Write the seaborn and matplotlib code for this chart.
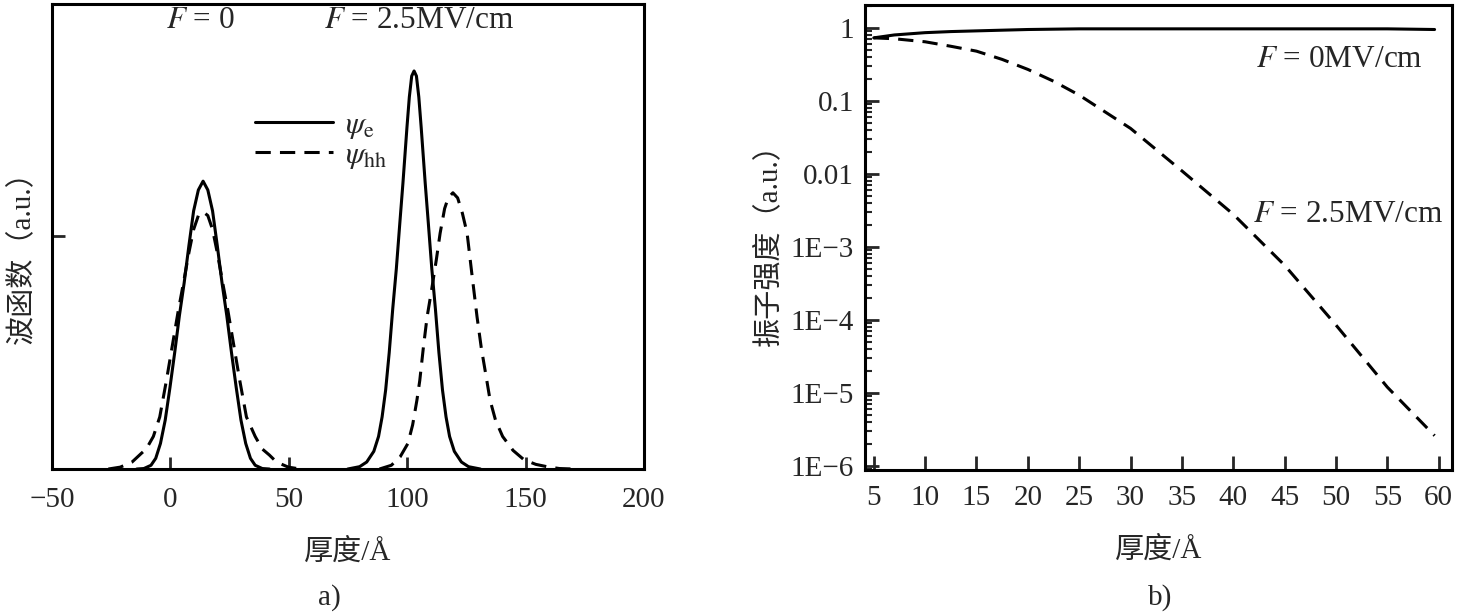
import numpy as np
import pandas as pd
import matplotlib
matplotlib.use("Agg")
import matplotlib.pyplot as plt
import matplotlib.ticker as mticker
import seaborn as sns

# panel a) wave functions
e_f0_x = [-14.2, -11.2, -8.2, -6.2, -4.2, -2.2, -0.2, 1.8, 3.8, 5.8, 7.8, 9.8, 11.8, 13.8,
          15.8, 17.8, 19.8, 21.8, 23.8, 25.8, 27.8, 29.8, 31.8, 33.8, 35.8, 38.8, 41.8]
e_f0_y = [0, 0.001, 0.008, 0.023, 0.055, 0.105, 0.175, 0.25, 0.33, 0.40, 0.48, 0.555, 0.60, 0.619,
          0.60, 0.555, 0.48, 0.40, 0.33, 0.25, 0.175, 0.105, 0.055, 0.023, 0.008, 0.001, 0]
hh_f0_x = [-26.2, -21.2, -16.2, -12.2, -10.2, -7.2, -4.5, -1.7, 0.5, 3.3, 5.5, 7.8, 9.8, 11.8, 13.8,
           15.8, 17.8, 19.8, 22.1, 24.3, 27.1, 29.3, 32.1, 35.8, 38.8, 41.8, 44.8, 49.8, 54.8]
hh_f0_y = [0, 0.004, 0.015, 0.034, 0.043, 0.07, 0.112, 0.19, 0.256, 0.34, 0.40, 0.465, 0.515, 0.545, 0.553,
           0.545, 0.515, 0.465, 0.40, 0.34, 0.256, 0.19, 0.112, 0.07, 0.043, 0.03, 0.015, 0.004, 0]
e_f25_x = [74.9, 79.9, 82.9, 85.9, 87.9, 89.4, 90.9, 92.4, 93.9, 95.4, 96.9, 98.2, 99.9, 100.9, 101.9, 102.9,
           103.9, 104.9, 105.9, 107.6, 108.9, 110.4, 111.9, 113.4, 114.9, 116.4, 117.9, 119.9, 122.9, 125.9, 130.9]
e_f25_y = [0, 0.005, 0.015, 0.038, 0.07, 0.112, 0.17, 0.25, 0.345, 0.43, 0.53, 0.615, 0.735, 0.80, 0.845, 0.856,
           0.845, 0.80, 0.735, 0.615, 0.53, 0.43, 0.345, 0.25, 0.17, 0.112, 0.07, 0.038, 0.015, 0.005, 0]
hh_f25_x = [88.3, 93.3, 97.0, 100.3, 102.3, 104.1, 105.3, 106.8, 108.4, 110.3, 112.3, 113.9, 115.8, 117.3, 119.3,
            121.3, 123.3, 125.3, 127.3, 129.5, 131.3, 133.3, 135.0, 137.3, 140.3, 144.7, 149.3, 154.3, 159.0, 164.3, 170.3]
hh_f25_y = [0, 0.008, 0.026, 0.055, 0.095, 0.148, 0.19, 0.26, 0.327, 0.385, 0.45, 0.507, 0.56, 0.583, 0.594,
            0.583, 0.55, 0.507, 0.42, 0.327, 0.26, 0.2, 0.148, 0.105, 0.07, 0.04, 0.02, 0.01, 0.005, 0.001, 0]

# panel b) oscillator strength vs thickness
thick_b = [5, 7, 10, 12.5, 15, 17.5, 20, 22.5, 25, 30, 35, 40, 45, 50, 55, 59.6]
osc_f0 = [0.73, 0.80, 0.86, 0.89, 0.91, 0.93, 0.95, 0.96, 0.97, 0.97, 0.97, 0.97, 0.97, 0.97, 0.97, 0.95]
osc_f25 = [0.73, 0.71, 0.645, 0.56, 0.48, 0.37, 0.27, 0.186, 0.12, 0.042, 0.011, 0.0028, 5.6e-4, 8.5e-5, 1.2e-5, 2.6e-6]

xticks_a = [-50, 0, 50, 100, 150, 200]
xticks_b = [5, 10, 15, 20, 25, 30, 35, 40, 45, 50, 55, 60]
yticks_b = [1e-6, 1e-5, 1e-4, 1e-3, 1e-2, 1e-1, 1]
yticklabels_b = ["1E\u22126", "1E\u22125", "1E\u22124", "1E\u22123", "0.01", "0.1", "1"]

sns.set_style("ticks")
plt.rcParams["font.family"] = ["Liberation Serif", "Noto Sans CJK SC"]
plt.rcParams["mathtext.fontset"] = "stix"
plt.rcParams["axes.unicode_minus"] = True
fs = 21
fs_note = 22.5
lw = 2.2

fig = plt.figure(figsize=(14.57, 6.13), dpi=100)
ax1 = fig.add_axes([0.0357, 0.2349, 0.4063, 0.7586])
ax2 = fig.add_axes([0.5937, 0.2333, 0.4029, 0.7586])

dash = (5, 3)
sns.lineplot(x=e_f0_x, y=e_f0_y, ax=ax1, color="black", lw=lw, estimator=None)
sns.lineplot(x=hh_f0_x, y=hh_f0_y, ax=ax1, color="black", lw=lw, estimator=None)
sns.lineplot(x=e_f25_x, y=e_f25_y, ax=ax1, color="black", lw=lw, estimator=None, label=r"$\psi_{\rm e}$")
sns.lineplot(x=hh_f25_x, y=hh_f25_y, ax=ax1, color="black", lw=lw, estimator=None, label=r"$\psi_{\rm hh}$")
ax1.lines[1].set_dashes(dash)
ax1.lines[3].set_dashes(dash)

ax1.set_xlim(-50, 200)
ax1.set_ylim(0, 1)
ax1.set_xticks(xticks_a)
ax1.set_yticks([0.5])
ax1.set_yticklabels([])
ax1.tick_params(direction="in", length=9, width=2, labelsize=fs, pad=13)
ax1.set_xlabel("厚度/Å", fontsize=fs, labelpad=18)
ax1.set_ylabel("波函数（a.u.）", fontsize=fs)
ax1.yaxis.set_label_coords(-0.027, 0.47)
ax1.text(0.25, 0.965, r"$F$ = 0", transform=ax1.transAxes, fontsize=fs_note, ha="center", va="center")
ax1.text(0.62, 0.965, r"$F$ = 2.5MV/cm", transform=ax1.transAxes, fontsize=fs_note, ha="center", va="center")
leg = ax1.legend(loc="center left", bbox_to_anchor=(0.295, 0.705), frameon=False, fontsize=fs_note,
                 handlelength=2.5, handletextpad=0.4, labelspacing=0.0)
for h in leg.get_lines():
    h.set_linewidth(lw)
leg.get_lines()[1].set_dashes(dash)

sns.lineplot(x=thick_b, y=osc_f0, ax=ax2, color="black", lw=lw, estimator=None)
sns.lineplot(x=thick_b, y=osc_f25, ax=ax2, color="black", lw=lw, estimator=None)
ax2.lines[1].set_dashes(dash)
ax2.set_yscale("log")
ax2.set_xlim(4.15, 61.3)
ax2.set_ylim(0.88e-6, 2.06)
ax2.set_xticks(xticks_b)
ax2.yaxis.set_major_locator(mticker.FixedLocator(yticks_b))
ax2.yaxis.set_major_formatter(mticker.FixedFormatter(yticklabels_b))
ax2.yaxis.set_minor_locator(mticker.LogLocator(base=10, subs=np.arange(2, 10)))
ax2.yaxis.set_minor_formatter(mticker.NullFormatter())
ax2.tick_params(axis="both", which="major", direction="in", length=10, width=2, labelsize=fs, pad=8)
ax2.tick_params(axis="x", which="major", pad=11)
ax2.tick_params(axis="y", which="minor", direction="in", length=5, width=1.5)
ax2.set_xlabel("厚度/Å", fontsize=fs, labelpad=18)
ax2.set_ylabel("振子强度（a.u.）", fontsize=fs, labelpad=6)
ax2.text(0.95, 0.883, r"$F$ = 0MV/cm", transform=ax2.transAxes, fontsize=fs_note, ha="right", va="center")
ax2.text(0.985, 0.55, r"$F$ = 2.5MV/cm", transform=ax2.transAxes, fontsize=fs_note, ha="right", va="center")

for ax in (ax1, ax2):
    for s in ax.spines.values():
        s.set_linewidth(2.2)
        s.set_color("black")

fig.text(0.2262, 0.026, "a)", fontsize=fs, ha="center", va="center")
fig.text(0.796, 0.026, "b)", fontsize=fs, ha="center", va="center")

fig.savefig("out.png", dpi=100)
